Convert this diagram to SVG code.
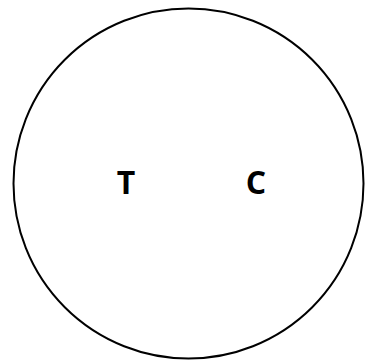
<svg xmlns="http://www.w3.org/2000/svg" width="365" height="361" viewBox="0 0 365 361">
<style>
.n{fill:#fff;stroke:#000;stroke-width:2}
.t{font-family:"Open Sans","DejaVu Sans",sans-serif;font-weight:bold;font-size:32px;text-anchor:middle;fill:#000}
</style>
<rect width="365" height="361" fill="#fff"/>
<g id="circle"><circle class="n" cx="188.5" cy="183.5" r="175"/></g>
<g id="connectors"></g>
<g id="T"><text class="t" x="126" y="194">T</text></g>
<g id="C"><text class="t" x="256" y="194">C</text></g>
</svg>
